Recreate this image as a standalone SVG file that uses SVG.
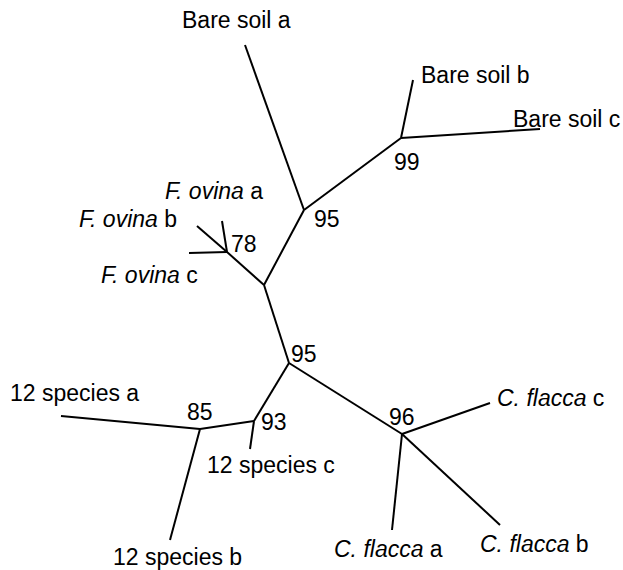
<svg xmlns="http://www.w3.org/2000/svg" width="623" height="570" viewBox="0 0 623 570">
<style>
.e{stroke:#000;stroke-width:2;fill:none;stroke-linecap:butt}
text{font-family:"Liberation Sans",Arial,sans-serif;font-size:23px;fill:#000}
.i{font-style:italic}
</style>
<rect width="623" height="570" fill="#fff"/>
<g id="connectors">
<line class="e" x1="245" y1="45" x2="304" y2="210"/>
<line class="e" x1="304" y1="210" x2="401" y2="138"/>
<line class="e" x1="401" y1="138" x2="413" y2="80"/>
<line class="e" x1="401" y1="138" x2="540" y2="129"/>
<line class="e" x1="304" y1="210" x2="264" y2="285"/>
<line class="e" x1="264" y1="285" x2="227" y2="252"/>
<line class="e" x1="227" y1="252" x2="222" y2="221"/>
<line class="e" x1="227" y1="252" x2="197" y2="226"/>
<line class="e" x1="227" y1="252" x2="189" y2="253"/>
<line class="e" x1="264" y1="285" x2="289" y2="363"/>
<line class="e" x1="289" y1="363" x2="254" y2="421"/>
<line class="e" x1="254" y1="421" x2="250" y2="449"/>
<line class="e" x1="254" y1="421" x2="200" y2="429"/>
<line class="e" x1="200" y1="429" x2="61" y2="416"/>
<line class="e" x1="200" y1="429" x2="170" y2="540"/>
<line class="e" x1="289" y1="363" x2="402" y2="434"/>
<line class="e" x1="402" y1="434" x2="490" y2="403"/>
<line class="e" x1="402" y1="434" x2="392" y2="530"/>
<line class="e" x1="402" y1="434" x2="500" y2="525"/>
</g>
<g id="bare-soil-a"><text x="182" y="28">Bare soil a</text></g>
<g id="bare-soil-b"><text x="421" y="83">Bare soil b</text></g>
<g id="bare-soil-c"><text x="513" y="127">Bare soil c</text></g>
<g id="node-99"><text x="394" y="170">99</text></g>
<g id="node-95a"><text x="314" y="227">95</text></g>
<g id="f-ovina-a"><text x="165" y="199"><tspan class="i">F. ovina</tspan> a</text></g>
<g id="f-ovina-b"><text x="79" y="227"><tspan class="i">F. ovina</tspan> b</text></g>
<g id="node-78"><text x="231" y="252">78</text></g>
<g id="f-ovina-c"><text x="101" y="283"><tspan class="i">F. ovina</tspan> c</text></g>
<g id="node-95b"><text x="291" y="362">95</text></g>
<g id="species-12-a"><text x="10" y="401">12 species a</text></g>
<g id="node-85"><text x="187" y="420">85</text></g>
<g id="node-93"><text x="261" y="430">93</text></g>
<g id="species-12-c"><text x="207" y="473">12 species c</text></g>
<g id="species-12-b"><text x="113" y="565">12 species b</text></g>
<g id="node-96"><text x="389" y="425">96</text></g>
<g id="c-flacca-c"><text x="497" y="406"><tspan class="i">C. flacca</tspan> c</text></g>
<g id="c-flacca-a"><text x="334" y="557"><tspan class="i">C. flacca</tspan> a</text></g>
<g id="c-flacca-b"><text x="480" y="552"><tspan class="i">C. flacca</tspan> b</text></g>
</svg>
